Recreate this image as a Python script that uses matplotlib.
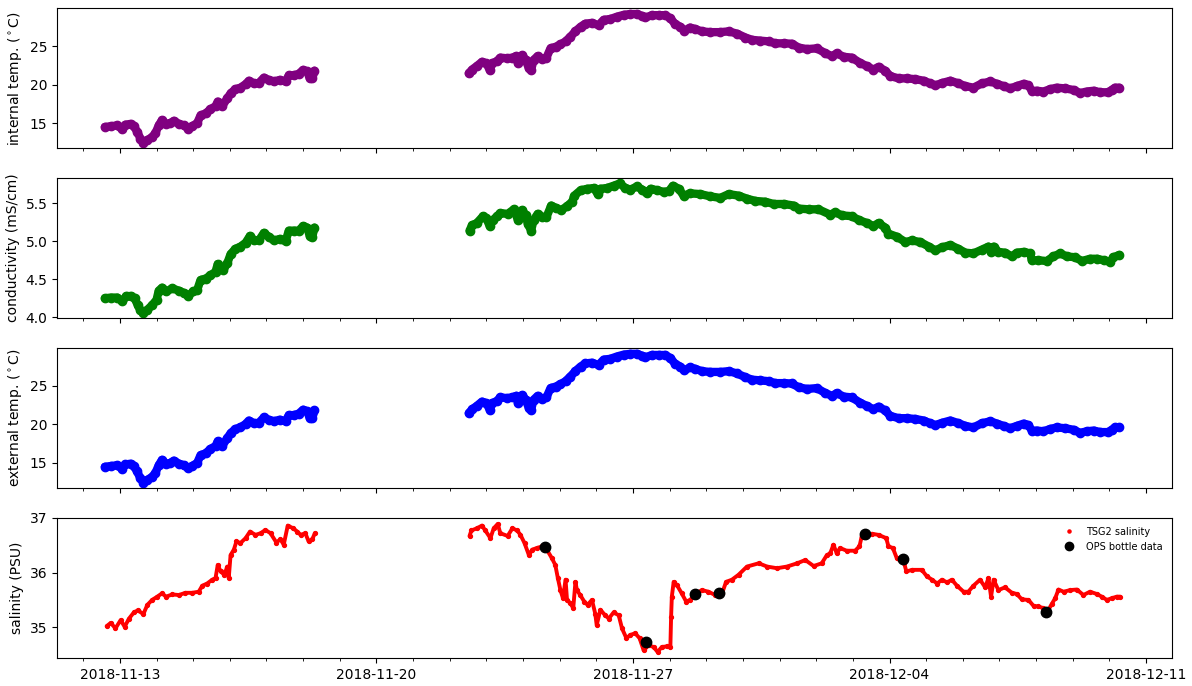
import numpy as np
import pandas as pd
import matplotlib
matplotlib.use('Agg')
import matplotlib.pyplot as plt
import matplotlib.dates as mdates

# time in days since 2018-11-13 00:00
start = pd.Timestamp('2018-11-13')

t_temp = [-0.41, -0.25, -0.07, 0.06, 0.15, 0.29, 0.38, 0.47, 0.56, 0.64,
          0.75, 0.88, 0.97, 1.06, 1.15, 1.25, 1.38, 1.47, 1.61, 1.75,
          1.86, 1.97, 2.11, 2.20, 2.34, 2.47, 2.61, 2.67, 2.79, 2.93,
          3.02, 3.15, 3.29, 3.43, 3.52, 3.65, 3.79, 3.93, 4.06, 4.20,
          4.36, 4.52, 4.61, 4.75, 4.88, 5.00, 5.11, 5.18, 5.25, 5.31,
          9.52, 9.61, 9.74, 9.88, 10.00, 10.09, 10.16, 10.29, 10.38, 10.57,
          10.71, 10.82, 10.86, 10.98, 11.07, 11.16, 11.22, 11.29, 11.40, 11.52,
          11.64, 11.75, 11.89, 12.02, 12.16, 12.29, 12.43, 12.57, 12.70, 12.88,
          13.06, 13.20, 13.38, 13.56, 13.75, 13.93, 14.11, 14.25, 14.34, 14.52,
          14.70, 14.88, 15.02, 15.15, 15.29, 15.40, 15.56, 15.70, 15.88, 16.11,
          16.38, 16.61, 16.84, 17.07, 17.25, 17.47, 17.70, 17.88, 18.11, 18.34,
          18.52, 18.75, 19.02, 19.25, 19.43, 19.56, 19.75, 19.97, 20.20, 20.38,
          20.56, 20.70, 20.88, 21.02, 21.25, 21.47, 21.70, 21.93, 22.11, 22.25,
          22.43, 22.66, 22.88, 23.07, 23.29, 23.52, 23.75, 23.93, 24.11, 24.29,
          24.47, 24.66, 24.79, 24.88, 25.02, 25.20, 25.38, 25.56, 25.79, 26.02,
          26.20, 26.38, 26.57, 26.75, 26.97, 27.06, 27.15, 27.27]

int_temp = [14.5, 14.6, 14.7, 14.2, 14.8, 14.9, 14.6, 13.9, 13.0, 12.45,
            12.8, 13.2, 13.7, 14.7, 15.4, 14.9, 15.0, 15.3, 14.9, 14.7,
            14.3, 14.6, 15.0, 16.0, 16.25, 16.8, 17.2, 17.8, 17.2, 18.2,
            18.85, 19.4, 19.6, 20.05, 20.5, 20.15, 20.2, 20.9, 20.6, 20.4,
            20.6, 20.4, 21.2, 21.2, 21.4, 21.9, 21.7, 20.8, 20.8, 21.8,
            21.45, 21.95, 22.4, 22.95, 22.75, 21.9, 22.75, 23.05, 23.5, 23.4,
            23.5, 23.7, 22.75, 23.8, 23.2, 22.1, 21.9, 23.2, 23.7, 23.3,
            23.5, 24.7, 24.9, 25.2, 25.6, 26.2, 26.9, 27.5, 27.9, 28.0,
            27.7, 28.4, 28.5, 28.8, 29.05, 29.15, 29.15, 28.9, 28.7, 29.0,
            29.0, 29.0, 28.6, 27.85, 27.5, 27.0, 27.4, 27.2, 26.9, 26.8,
            26.8, 26.9, 26.6, 26.1, 25.8, 25.7, 25.6, 25.35, 25.35, 25.3,
            24.8, 24.6, 24.7, 24.05, 23.7, 24.05, 23.6, 23.5, 22.8, 22.4,
            21.95, 22.3, 21.8, 21.1, 20.8, 20.8, 20.7, 20.5, 20.15, 19.9,
            20.2, 20.5, 20.15, 19.8, 19.6, 20.15, 20.4, 20.1, 19.8, 19.5,
            19.8, 20.1, 19.9, 19.2, 19.2, 19.1, 19.4, 19.6, 19.5, 19.3,
            18.9, 19.1, 19.2, 19.0, 19.0, 19.3, 19.6, 19.6]

ext_temp = [14.5, 14.6, 14.7, 14.2, 14.8, 14.9, 14.6, 13.9, 13.0, 12.45,
            12.8, 13.2, 13.7, 14.7, 15.4, 14.9, 15.0, 15.3, 14.9, 14.7,
            14.3, 14.6, 15.0, 16.0, 16.25, 16.8, 17.2, 17.8, 17.2, 18.2,
            18.85, 19.4, 19.6, 20.05, 20.5, 20.15, 20.2, 20.9, 20.6, 20.4,
            20.6, 20.4, 21.2, 21.2, 21.4, 21.9, 21.7, 20.8, 20.8, 21.8,
            21.45, 21.95, 22.4, 22.95, 22.75, 21.9, 22.75, 23.05, 23.5, 23.4,
            23.5, 23.7, 22.75, 23.8, 23.2, 22.1, 21.9, 23.2, 23.7, 23.3,
            23.5, 24.7, 24.9, 25.2, 25.6, 26.2, 26.9, 27.5, 27.9, 28.0,
            27.7, 28.4, 28.5, 28.8, 29.05, 29.15, 29.15, 28.9, 28.7, 29.0,
            29.0, 29.0, 28.6, 27.85, 27.5, 27.0, 27.4, 27.2, 26.9, 26.8,
            26.8, 26.9, 26.6, 26.1, 25.8, 25.7, 25.6, 25.35, 25.35, 25.3,
            24.8, 24.6, 24.7, 24.05, 23.7, 24.05, 23.6, 23.5, 22.8, 22.4,
            21.95, 22.3, 21.8, 21.1, 20.8, 20.8, 20.7, 20.5, 20.15, 19.9,
            20.2, 20.5, 20.15, 19.8, 19.6, 20.15, 20.4, 20.1, 19.8, 19.5,
            19.8, 20.1, 19.9, 19.2, 19.2, 19.1, 19.4, 19.6, 19.5, 19.3,
            18.9, 19.1, 19.2, 19.0, 19.0, 19.3, 19.6, 19.6]

t_cond = [-0.41, -0.25, -0.07, 0.06, 0.18, 0.31, 0.40, 0.49, 0.56, 0.64,
          0.75, 0.88, 1.00, 1.06, 1.15, 1.26, 1.43, 1.61, 1.75, 1.86,
          2.00, 2.11, 2.20, 2.34, 2.47, 2.61, 2.67, 2.82, 2.93, 3.02,
          3.15, 3.29, 3.43, 3.55, 3.65, 3.79, 3.93, 4.06, 4.20, 4.36,
          4.52, 4.61, 4.75, 4.88, 5.00, 5.11, 5.18, 5.25, 5.31,
          9.54, 9.61, 9.74, 9.91, 10.00, 10.09, 10.18, 10.29, 10.38, 10.58,
          10.75, 10.86, 10.98, 11.07, 11.13, 11.22, 11.29, 11.40, 11.52, 11.64,
          11.77, 11.89, 12.04, 12.20, 12.34, 12.40, 12.57, 12.75, 12.93, 13.04,
          13.11, 13.29, 13.47, 13.64, 13.79, 13.93, 14.11, 14.25, 14.37, 14.48,
          14.66, 14.84, 14.98, 15.09, 15.25, 15.38, 15.56, 15.84, 16.11, 16.38,
          16.61, 16.88, 17.11, 17.34, 17.61, 17.84, 18.11, 18.38, 18.52,
          18.79, 19.06, 19.38, 19.52, 19.70, 19.97, 20.16, 20.38, 20.56, 20.70,
          20.88, 20.97, 21.20, 21.43, 21.61, 21.84, 22.07, 22.25, 22.43, 22.66,
          22.88, 23.07, 23.29, 23.52, 23.70, 23.76, 23.84, 23.97, 24.15, 24.34,
          24.47, 24.66, 24.84, 24.88, 25.06, 25.29, 25.47, 25.66, 25.84, 26.06,
          26.25, 26.47, 26.66, 26.84, 27.02, 27.11, 27.27]

cond = [4.25, 4.26, 4.26, 4.21, 4.28, 4.28, 4.25, 4.16, 4.09, 4.06,
        4.10, 4.16, 4.23, 4.35, 4.39, 4.34, 4.38, 4.35, 4.32, 4.28,
        4.34, 4.36, 4.49, 4.51, 4.55, 4.60, 4.70, 4.62, 4.71, 4.83,
        4.90, 4.93, 4.98, 5.07, 5.01, 5.01, 5.11, 5.06, 5.01, 5.03,
        5.00, 5.14, 5.14, 5.14, 5.20, 5.18, 5.07, 5.06, 5.18,
        5.14, 5.21, 5.24, 5.33, 5.30, 5.20, 5.28, 5.33, 5.37, 5.36,
        5.42, 5.28, 5.41, 5.34, 5.23, 5.14, 5.28, 5.36, 5.32, 5.32,
        5.47, 5.44, 5.41, 5.46, 5.52, 5.60, 5.67, 5.69, 5.70, 5.62,
        5.69, 5.70, 5.73, 5.76, 5.70, 5.68, 5.72, 5.68, 5.63, 5.69,
        5.67, 5.65, 5.66, 5.73, 5.69, 5.60, 5.63, 5.62, 5.59, 5.57,
        5.62, 5.60, 5.56, 5.53, 5.52, 5.49, 5.49, 5.47, 5.43,
        5.42, 5.42, 5.35, 5.38, 5.34, 5.33, 5.28, 5.24, 5.20, 5.24,
        5.18, 5.10, 5.06, 4.99, 5.01, 4.99, 4.93, 4.88, 4.92, 4.95,
        4.90, 4.85, 4.84, 4.89, 4.93, 4.86, 4.93, 4.86, 4.85, 4.80,
        4.85, 4.86, 4.84, 4.75, 4.75, 4.74, 4.80, 4.84, 4.80, 4.79,
        4.74, 4.77, 4.77, 4.75, 4.73, 4.79, 4.82]

t_sal = [-0.36, -0.25, -0.12, 0.02, 0.13, 0.25, 0.38, 0.49, 0.64, 0.75,
         0.88, 1.02, 1.15, 1.26, 1.43, 1.61, 1.79, 1.97, 2.15, 2.25,
         2.38, 2.52, 2.61, 2.67, 2.75, 2.85, 2.93, 2.97, 3.02, 3.11,
         3.18, 3.29, 3.43, 3.55, 3.70, 3.84, 3.97, 4.11, 4.27, 4.38,
         4.47, 4.58, 4.73, 4.84, 4.93, 5.06, 5.15, 5.25, 5.32,
         9.54, 9.59, 9.74, 9.88, 9.97, 10.11, 10.20, 10.31, 10.38, 10.58,
         10.71, 10.84, 10.93, 11.04, 11.16, 11.25, 11.38, 11.52, 11.65, 11.79,
         11.88, 11.95, 12.02, 12.09, 12.16, 12.20, 12.29, 12.37, 12.43, 12.47,
         12.56, 12.67, 12.76, 12.88, 12.97, 13.01, 13.11, 13.24, 13.34, 13.47,
         13.61, 13.70, 13.82, 13.93, 14.06, 14.18, 14.29, 14.43, 14.56, 14.67,
         14.79, 14.93, 15.02, 15.04, 15.06, 15.11, 15.20, 15.33, 15.45, 15.56,
         15.70, 15.88, 16.06, 16.24, 16.43, 16.54, 16.70, 16.88, 17.11, 17.43,
         17.66, 17.93, 18.20, 18.48,
         18.70, 18.93, 19.15, 19.29, 19.38, 19.47, 19.56, 19.65, 19.83, 20.06,
         20.18, 20.24, 20.33, 20.52, 20.70, 20.91, 20.97, 21.09, 21.20, 21.40,
         21.46, 21.61, 21.88, 22.02, 22.16, 22.30, 22.43, 22.57, 22.70, 22.84,
         23.02, 23.15, 23.29, 23.47, 23.61, 23.70, 23.77, 23.84, 23.97, 24.15,
         24.34, 24.47, 24.61, 24.79, 24.93, 25.06, 25.20, 25.33, 25.43, 25.52,
         25.61, 25.75, 25.93, 26.11, 26.29, 26.47, 26.65, 26.79, 26.93, 27.06,
         27.20, 27.29]

sal = [35.02, 35.08, 34.98, 35.13, 35.01, 35.16, 35.27, 35.31, 35.24, 35.41,
       35.50, 35.56, 35.62, 35.56, 35.60, 35.59, 35.63, 35.63, 35.65, 35.76,
       35.80, 35.87, 35.90, 36.14, 36.02, 35.96, 36.11, 35.90, 36.32, 36.42,
       36.57, 36.54, 36.63, 36.75, 36.69, 36.72, 36.78, 36.72, 36.55, 36.61,
       36.51, 36.86, 36.81, 36.75, 36.69, 36.72, 36.57, 36.61, 36.72,
       36.67, 36.77, 36.81, 36.86, 36.77, 36.63, 36.81, 36.89, 36.72, 36.67,
       36.81, 36.77, 36.69, 36.54, 36.32, 36.42, 36.45, 36.48, 36.42, 36.26,
       36.14, 35.90, 35.68, 35.53, 35.87, 35.50, 35.44, 35.35, 35.83, 35.68,
       35.59, 35.47, 35.41, 35.50, 35.25, 35.04, 35.32, 35.22, 35.16, 35.27,
       35.22, 34.98, 34.80, 34.86, 34.89, 34.80, 34.58, 34.67, 34.64, 34.55,
       34.64, 34.65, 34.64, 35.19, 35.56, 35.83, 35.77, 35.62, 35.47, 35.50,
       35.61, 35.68, 35.65, 35.59, 35.62, 35.83, 35.87, 35.96, 36.11, 36.17,
       36.11, 36.08, 36.11, 36.17,
       36.23, 36.12, 36.17, 36.32, 36.35, 36.51, 36.35, 36.45, 36.40, 36.40,
       36.48, 36.66, 36.69, 36.71, 36.69, 36.63, 36.48, 36.45, 36.26, 36.17,
       36.02, 36.05, 36.05, 35.93, 35.87, 35.80, 35.87, 35.82, 35.87, 35.76,
       35.65, 35.65, 35.76, 35.87, 35.73, 35.90, 35.56, 35.87, 35.68, 35.73,
       35.63, 35.61, 35.51, 35.50, 35.39, 35.38, 35.35, 35.31, 35.43, 35.53,
       35.69, 35.65, 35.68, 35.69, 35.59, 35.65, 35.61, 35.56, 35.50, 35.53,
       35.56, 35.56]

t_bottle = [11.61, 14.36, 15.68, 16.36, 20.34, 21.38, 25.28]
sal_bottle = [36.46, 34.73, 35.60, 35.62, 36.70, 36.25, 35.27]


def with_gaps(days, vals):
    # break the trace where the ship data has a gap longer than a day
    days = np.asarray(days, float)
    vals = np.asarray(vals, float)
    idx = np.where(np.diff(days) > 1.0)[0] + 1
    days = np.insert(days, idx, days[idx])
    vals = np.insert(vals, idx, np.nan)
    return start + pd.to_timedelta(days, unit='D'), vals


def to_time(days):
    return start + pd.to_timedelta(np.asarray(days, float), unit='D')


fig, axes = plt.subplots(4, 1, sharex=True, figsize=(11.92, 6.86), dpi=100)
fig.subplots_adjust(left=0.048, right=0.983, top=0.988, bottom=0.041, hspace=0.214)

thick = dict(marker='o', ms=6, lw=6, solid_capstyle='round', solid_joinstyle='round')

x, y = with_gaps(t_temp, int_temp)
axes[0].plot(x, y, color='purple', **thick)
axes[0].set_ylabel(r'internal temp. ($^\circ$C)')
axes[0].set_ylim(11.75, 29.9)
axes[0].set_yticks([15, 20, 25])

x, y = with_gaps(t_cond, cond)
axes[1].plot(x, y, color='green', **thick)
axes[1].set_ylabel('conductivity (mS/cm)')
axes[1].set_ylim(3.99, 5.83)
axes[1].set_yticks([4.0, 4.5, 5.0, 5.5])

x, y = with_gaps(t_temp, ext_temp)
axes[2].plot(x, y, color='blue', **thick)
axes[2].set_ylabel(r'external temp. ($^\circ$C)')
axes[2].set_ylim(11.75, 29.9)
axes[2].set_yticks([15, 20, 25])

x, y = with_gaps(t_sal, sal)
axes[3].plot(x, y, color='red', lw=2.8, solid_capstyle='round')
axes[3].plot(to_time(t_sal), sal, 'o', color='red', ms=2.8, label='TSG2 salinity')
axes[3].plot(to_time(t_bottle), sal_bottle, 'o', color='black', ms=7.5, label='OPS bottle data')
axes[3].set_ylabel('salinity (PSU)')
axes[3].set_ylim(34.44, 37.0)
axes[3].set_yticks([35, 36, 37])
axes[3].legend(loc='upper right', frameon=False, fontsize=7, markerscale=0.8)

axes[3].xaxis.set_major_locator(mdates.WeekdayLocator(byweekday=mdates.TU))
axes[3].xaxis.set_minor_locator(mdates.DayLocator())
axes[3].xaxis.set_major_formatter(mdates.DateFormatter('%Y-%m-%d'))
axes[3].set_xlim(start - pd.Timedelta(days=1.71), start + pd.Timedelta(days=28.70))

plt.savefig('out.png', dpi=100)
